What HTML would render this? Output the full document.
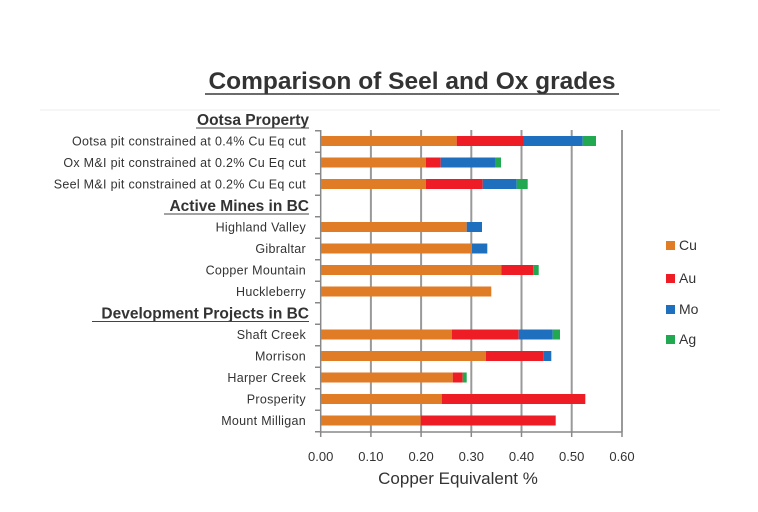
<!DOCTYPE html>
<html><head><meta charset="utf-8"><style>
html,body{margin:0;padding:0;background:#fff;width:758px;height:512px;overflow:hidden}
text{font-family:"Liberation Sans",sans-serif;fill:#333}
</style></head><body>
<svg width="758" height="512" viewBox="0 0 758 512" xmlns="http://www.w3.org/2000/svg">
<text x="412" y="89" font-size="24.5" font-weight="bold" text-anchor="middle" fill="#3a3a3a">Comparison of Seel and Ox grades</text>
<line x1="205" y1="94" x2="619" y2="94" stroke="#3a3a3a" stroke-width="1.5"/>
<line x1="40" y1="110" x2="720" y2="110" stroke="#eee" stroke-width="1"/>
<g stroke="#999" stroke-width="2">
<line x1="370.9" y1="130" x2="370.9" y2="432"/>
<line x1="421.1" y1="130" x2="421.1" y2="432"/>
<line x1="471.3" y1="130" x2="471.3" y2="432"/>
<line x1="521.5" y1="130" x2="521.5" y2="432"/>
<line x1="571.7" y1="130" x2="571.7" y2="432"/>
<line x1="622" y1="130" x2="622" y2="432"/>
</g>
<g stroke="#888" stroke-width="1.5">
<line x1="320.7" y1="130" x2="320.7" y2="432"/>
<line x1="320.7" y1="432" x2="622" y2="432"/>
<line x1="315" y1="130.75" x2="320.7" y2="130.75"/>
<line x1="315" y1="152.25" x2="320.7" y2="152.25"/>
<line x1="315" y1="173.75" x2="320.7" y2="173.75"/>
<line x1="315" y1="195.25" x2="320.7" y2="195.25"/>
<line x1="315" y1="216.75" x2="320.7" y2="216.75"/>
<line x1="315" y1="238.25" x2="320.7" y2="238.25"/>
<line x1="315" y1="259.75" x2="320.7" y2="259.75"/>
<line x1="315" y1="281.25" x2="320.7" y2="281.25"/>
<line x1="315" y1="302.75" x2="320.7" y2="302.75"/>
<line x1="315" y1="324.25" x2="320.7" y2="324.25"/>
<line x1="315" y1="345.75" x2="320.7" y2="345.75"/>
<line x1="315" y1="367.25" x2="320.7" y2="367.25"/>
<line x1="315" y1="388.75" x2="320.7" y2="388.75"/>
<line x1="315" y1="410.25" x2="320.7" y2="410.25"/>
<line x1="315" y1="431.75" x2="320.7" y2="431.75"/>
<line x1="320.7" y1="432" x2="320.7" y2="437"/>
<line x1="370.9" y1="432" x2="370.9" y2="437"/>
<line x1="421.1" y1="432" x2="421.1" y2="437"/>
<line x1="471.3" y1="432" x2="471.3" y2="437"/>
<line x1="521.5" y1="432" x2="521.5" y2="437"/>
<line x1="571.7" y1="432" x2="571.7" y2="437"/>
<line x1="622" y1="432" x2="622" y2="437"/>
</g>
<g>
<rect x="321" y="136" width="135.7" height="10" fill="#e07b26"/>
<rect x="456.7" y="136" width="66.3" height="10" fill="#ee1c24"/>
<rect x="523" y="136" width="59.7" height="10" fill="#1f6fbf"/>
<rect x="582.7" y="136" width="13.3" height="10" fill="#21a851"/>

<rect x="321" y="157.5" width="105" height="10" fill="#e07b26"/>
<rect x="426" y="157.5" width="14.7" height="10" fill="#ee1c24"/>
<rect x="440.7" y="157.5" width="54.3" height="10" fill="#1f6fbf"/>
<rect x="495" y="157.5" width="6" height="10" fill="#21a851"/>

<rect x="321" y="179" width="105" height="10" fill="#e07b26"/>
<rect x="426" y="179" width="56.7" height="10" fill="#ee1c24"/>
<rect x="482.7" y="179" width="34" height="10" fill="#1f6fbf"/>
<rect x="516.7" y="179" width="11" height="10" fill="#21a851"/>

<rect x="321" y="222" width="145.7" height="10" fill="#e07b26"/>
<rect x="466.7" y="222" width="15.3" height="10" fill="#1f6fbf"/>

<rect x="321" y="243.5" width="151" height="10" fill="#e07b26"/>
<rect x="472" y="243.5" width="15.3" height="10" fill="#1f6fbf"/>

<rect x="321" y="265" width="180.3" height="10" fill="#e07b26"/>
<rect x="501.3" y="265" width="32" height="10" fill="#ee1c24"/>
<rect x="533.3" y="265" width="5.4" height="10" fill="#21a851"/>

<rect x="321" y="286.5" width="170.3" height="10" fill="#e07b26"/>

<rect x="321" y="329.5" width="131" height="10" fill="#e07b26"/>
<rect x="452" y="329.5" width="66.7" height="10" fill="#ee1c24"/>
<rect x="518.7" y="329.5" width="34" height="10" fill="#1f6fbf"/>
<rect x="552.7" y="329.5" width="7.3" height="10" fill="#21a851"/>

<rect x="321" y="351" width="165" height="10" fill="#e07b26"/>
<rect x="486" y="351" width="57.3" height="10" fill="#ee1c24"/>
<rect x="543.3" y="351" width="8" height="10" fill="#1f6fbf"/>

<rect x="321" y="372.5" width="131.7" height="10" fill="#e07b26"/>
<rect x="452.7" y="372.5" width="10" height="10" fill="#ee1c24"/>
<rect x="462.7" y="372.5" width="4" height="10" fill="#21a851"/>

<rect x="321" y="394" width="120.7" height="10" fill="#e07b26"/>
<rect x="441.7" y="394" width="143.6" height="10" fill="#ee1c24"/>

<rect x="321" y="415.5" width="99.7" height="10" fill="#e07b26"/>
<rect x="420.7" y="415.5" width="135" height="10" fill="#ee1c24"/>
</g>
<g font-size="12.5" text-anchor="end" letter-spacing="0.3">
<text x="306" y="145.5">Ootsa pit constrained at 0.4% Cu Eq cut</text>
<text x="306" y="167">Ox M&amp;I pit constrained at 0.2% Cu Eq cut</text>
<text x="306" y="188.5">Seel M&amp;I pit constrained at 0.2% Cu Eq cut</text>
<text x="306" y="231.5">Highland Valley</text>
<text x="306" y="253">Gibraltar</text>
<text x="306" y="274.5">Copper Mountain</text>
<text x="306" y="296">Huckleberry</text>
<text x="306" y="339">Shaft Creek</text>
<text x="306" y="360.5">Morrison</text>
<text x="306" y="382">Harper Creek</text>
<text x="306" y="403.5">Prosperity</text>
<text x="306" y="425">Mount Milligan</text>
</g>
<g font-size="15.5" font-weight="bold" text-anchor="end" fill="#333">
<text x="309" y="125">Ootsa Property</text>
<text x="309" y="211">Active Mines in BC</text>
<text x="309" y="318.5">Development Projects in BC</text>
</g>
<g stroke="#444" stroke-width="1">
<line x1="196" y1="128" x2="309" y2="128"/>
<line x1="164" y1="214" x2="309" y2="214"/>
<line x1="92" y1="321.5" x2="309" y2="321.5"/>
</g>
<g font-size="13" text-anchor="middle">
<text x="320.7" y="461">0.00</text>
<text x="370.9" y="461">0.10</text>
<text x="421.1" y="461">0.20</text>
<text x="471.3" y="461">0.30</text>
<text x="521.5" y="461">0.40</text>
<text x="571.7" y="461">0.50</text>
<text x="622" y="461">0.60</text>
</g>
<text x="458" y="484" font-size="17" text-anchor="middle" fill="#444">Copper Equivalent %</text>
<rect x="666" y="241" width="9" height="9" fill="#e07b26"/>
<rect x="666" y="274" width="9" height="9" fill="#ee1c24"/>
<rect x="666" y="305" width="9" height="9" fill="#1f6fbf"/>
<rect x="666" y="335" width="9" height="9" fill="#21a851"/>
<g font-size="14">
<text x="679" y="250">Cu</text>
<text x="679" y="283">Au</text>
<text x="679" y="314">Mo</text>
<text x="679" y="344">Ag</text>
</g>
</svg>
</body></html>
